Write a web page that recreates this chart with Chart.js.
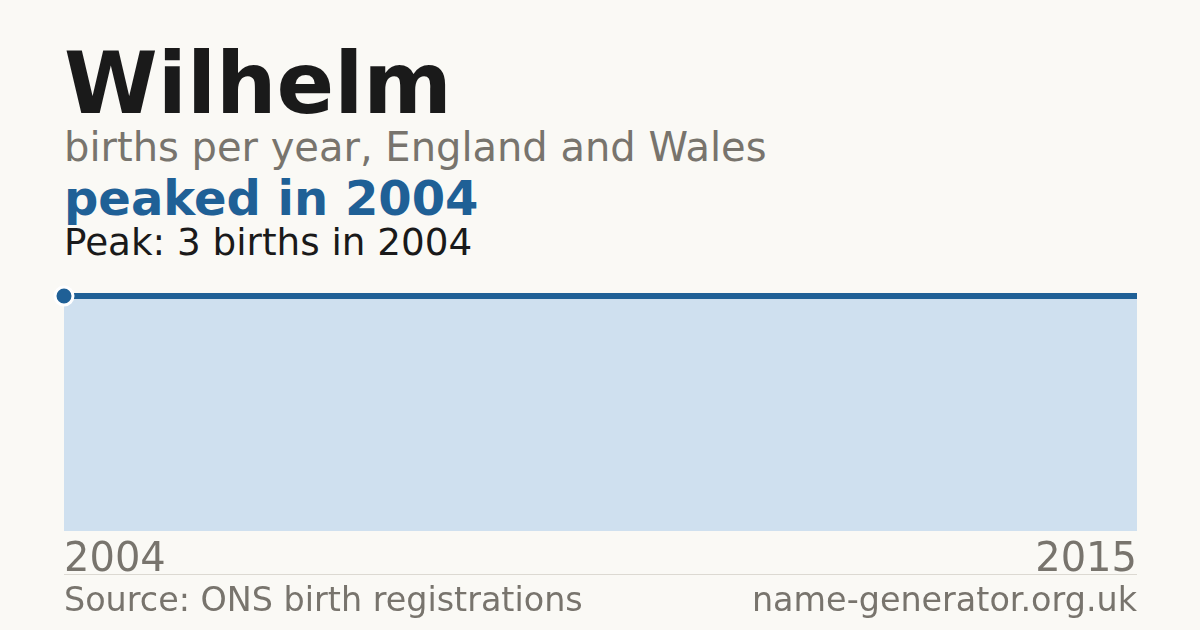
<!DOCTYPE html>
<html>
<head>
<meta charset="utf-8">
<script src="https://cdn.jsdelivr.net/npm/chart.js@4"></script>
<style>
  html, body { margin:0; padding:0; background:#faf9f5; }
  #wrap { position:relative; width:1200px; height:630px; overflow:hidden; font-family:'DejaVu Sans', sans-serif; }
  .t { position:absolute; left:64px; white-space:nowrap; }
  #title { top:41px; font-size:85px; line-height:85px; font-weight:bold; color:#1a1a1a; }
  #sub { top:127px; font-size:40px; line-height:40px; color:#78746d; }
  #peaked { top:174px; font-size:48px; line-height:48px; font-weight:bold; color:#1f6096; }
  #peak { top:224px; font-size:37.3px; line-height:37px; color:#1a1a1a; }
  #rule { position:absolute; left:64px; width:1073px; top:574px; height:1px; background:#dcd9d2; }
  .foot { position:absolute; top:583px; font-size:33.4px; line-height:33px; color:#78746d; white-space:nowrap; }
  #src { left:64px; }
  #site { right:63px; }
  canvas { position:absolute; left:0; top:0; }
</style>
</head>
<body>
<div id="wrap">
  <div class="t" id="title">Wilhelm</div>
  <div class="t" id="sub">births per year, England and Wales</div>
  <div class="t" id="peaked">peaked in 2004</div>
  <div class="t" id="peak">Peak: 3 births in 2004</div>
  <canvas id="lineChart" width="1200" height="630"></canvas>
  <div id="rule"></div>
  <div class="foot" id="src">Source: ONS birth registrations</div>
  <div class="foot" id="site">name-generator.org.uk</div>
</div>
<script>
const years = ['2004','2005','2006','2007','2008','2009','2010','2011','2012','2013','2014','2015'];
const births = [3,3,3,3,3,3,3,3,3,3,3,3];
const tickLabels = ['2004','2015'];
const peakIndex = 0;

const lineColor = '#1f6096';
const fillColor = '#cfe0ef';

const ctx = document.getElementById('lineChart').getContext('2d');
new Chart(ctx, {
  type:'line',
  data:{
    labels: years,
    datasets:[{
      data: births,
      borderColor: lineColor,
      borderWidth: 6,
      backgroundColor: fillColor,
      fill: 'origin',
      tension: 0,
      clip: false,
      pointRadius: births.map((v,i) => i === peakIndex ? 9 : 0),
      pointBackgroundColor: lineColor,
      pointBorderColor: '#ffffff',
      pointBorderWidth: 3
    }]
  },
  options:{
    responsive:false,
    animation:false,
    layout:{ padding:{ left:64, right:63, top:296, bottom:39 } },
    plugins:{ legend:{ display:false }, tooltip:{ enabled:false } },
    scales:{
      x:{
        grid:{ display:false, drawTicks:false },
        border:{ display:false },
        ticks:{
          autoSkip:false,
          maxRotation:0,
          align:'inner',
          padding:6,
          color:'#78746d',
          font:{ family:'DejaVu Sans', size:40 },
          callback:function(v, i){ const l = this.getLabelForValue(v); return tickLabels.includes(l) ? l : ''; }
        }
      },
      y:{ display:false, min:0, max:3 }
    }
  }
});
</script>
</body>
</html>
